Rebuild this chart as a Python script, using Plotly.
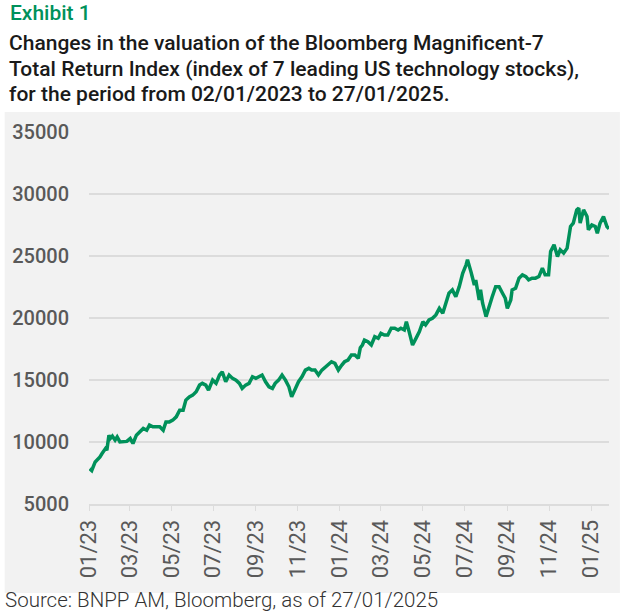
import plotly.graph_objects as go

# Bloomberg Magnificent-7 Total Return Index
dates = [
    "2023-01-02", "2023-01-05", "2023-01-10", "2023-01-15", "2023-01-17", "2023-01-20",
    "2023-01-25", "2023-01-27", "2023-01-30", "2023-02-01", "2023-02-04", "2023-02-08",
    "2023-02-11", "2023-02-15", "2023-02-20", "2023-02-25", "2023-03-02", "2023-03-06",
    "2023-03-11", "2023-03-16", "2023-03-21", "2023-03-26", "2023-03-30", "2023-04-04",
    "2023-04-09", "2023-04-14", "2023-04-19", "2023-04-23", "2023-04-28", "2023-05-03",
    "2023-05-08", "2023-05-13", "2023-05-18", "2023-05-22", "2023-05-27", "2023-06-01",
    "2023-06-06", "2023-06-11", "2023-06-15", "2023-06-20", "2023-06-24", "2023-06-27",
    "2023-06-30", "2023-07-05", "2023-07-10", "2023-07-14", "2023-07-19", "2023-07-24",
    "2023-07-29", "2023-08-03", "2023-08-08", "2023-08-12", "2023-08-17", "2023-08-22",
    "2023-08-27", "2023-09-01", "2023-09-05", "2023-09-10", "2023-09-15", "2023-09-20",
    "2023-09-25", "2023-09-29", "2023-10-04", "2023-10-09", "2023-10-14", "2023-10-19",
    "2023-10-23", "2023-10-28", "2023-11-02", "2023-11-07", "2023-11-12", "2023-11-17",
    "2023-11-21", "2023-11-26", "2023-12-01", "2023-12-06", "2023-12-11", "2023-12-16",
    "2023-12-20", "2023-12-25", "2023-12-30", "2024-01-04", "2024-01-08", "2024-01-13",
    "2024-01-18", "2024-01-23", "2024-01-28", "2024-01-31", "2024-02-03", "2024-02-06",
    "2024-02-11", "2024-02-16", "2024-02-21", "2024-02-26", "2024-03-01", "2024-03-06",
    "2024-03-11", "2024-03-16", "2024-03-21", "2024-03-26", "2024-03-30", "2024-04-04",
    "2024-04-07", "2024-04-11", "2024-04-16", "2024-04-21", "2024-04-26", "2024-05-01",
    "2024-05-05", "2024-05-10", "2024-05-15", "2024-05-20", "2024-05-25", "2024-05-30",
    "2024-06-03", "2024-06-08", "2024-06-13", "2024-06-18", "2024-06-23", "2024-06-28",
    "2024-07-03", "2024-07-05", "2024-07-10", "2024-07-15", "2024-07-17", "2024-07-22",
    "2024-07-24", "2024-07-27", "2024-08-01", "2024-08-05", "2024-08-10", "2024-08-15",
    "2024-08-20", "2024-08-25", "2024-08-29", "2024-09-01", "2024-09-06", "2024-09-08",
    "2024-09-13", "2024-09-18", "2024-09-23", "2024-09-28", "2024-10-02", "2024-10-07",
    "2024-10-12", "2024-10-17", "2024-10-22", "2024-10-26", "2024-10-31", "2024-11-03",
    "2024-11-08", "2024-11-13", "2024-11-17", "2024-11-22", "2024-11-27", "2024-12-02",
    "2024-12-06", "2024-12-11", "2024-12-14", "2024-12-16", "2024-12-21", "2024-12-26",
    "2024-12-28", "2025-01-02", "2025-01-07", "2025-01-10", "2025-01-14", "2025-01-19",
    "2025-01-24", "2025-01-27",
]
index_values = [
    7850, 7700, 8390, 8670, 8800, 9070,
    9470, 9340, 10550, 10280, 10470, 10150,
    10410, 10010, 10010, 10050, 10280, 9880,
    10550, 10820, 11090, 10950, 11360, 11220,
    11250, 11220, 10950, 11620, 11620, 11760,
    12030, 12570, 12570, 13380, 13640, 13780,
    14050, 14590, 14730, 14590, 14180, 14590,
    14990, 14730, 15400, 15660, 14860, 15400,
    15130, 14990, 14730, 14320, 14590, 14730,
    15260, 15130, 15260, 15400, 14860, 14450,
    14320, 14730, 14990, 15400, 14990, 14450,
    13640, 14320, 14860, 15260, 15800, 15940,
    15800, 15800, 15400, 15800, 16070, 16340,
    16470, 16340, 15800, 16200, 16470, 16610,
    17010, 17010, 16750, 17600, 17820, 18220,
    18090, 17820, 18490, 18360, 18760, 18630,
    18630, 19170, 19170, 19030, 19170, 19030,
    19700, 18900, 17820, 18360, 18900, 19700,
    19440, 19840, 19980, 20250, 20780, 20380,
    21190, 22000, 22270, 21720, 22530, 23610,
    24290, 24690, 23740, 22660, 23070, 21450,
    22270, 21190, 20110, 20910, 21720, 22530,
    22530, 22000, 21590, 20780, 21450, 22270,
    22400, 23210, 23480, 23340, 23070, 23210,
    23210, 23340, 24020, 23480, 23480, 25360,
    25900, 24960, 25500, 25230, 25630, 27380,
    27650, 28720, 28860, 27650, 28720, 28180,
    27110, 27510, 27380, 26840, 27650, 28180,
    27380, 27200,
]

title_top = "Exhibit 1"
title_lines = [
    "Changes in the valuation of the Bloomberg Magnificent-7",
    "Total Return Index (index of 7 leading US technology stocks),",
    "for the period from 02/01/2023 to 27/01/2025.",
]
source_text = "Source: BNPP AM, Bloomberg, as of 27/01/2025"

green = "#00915a"
grid = "#dcdcdc"
bg = "#f2f2f2"

W, H = 624, 616
ml, mr, mt, mb = 85, 15, 132, 112
pw, ph = W - ml - mr, H - mt - mb


def px_x(x):
    return (x - ml) / pw


def px_y(y):
    return (H - mb - y) / ph


fig = go.Figure()
fig.add_trace(go.Scatter(
    x=dates, y=index_values, mode="lines",
    line=dict(color=green, width=3.5),
    showlegend=False, hoverinfo="x+y",
))

# grey panel behind the chart
fig.add_shape(type="rect", xref="paper", yref="paper",
              x0=px_x(0), x1=px_x(620), y0=px_y(593), y1=px_y(112),
              fillcolor=bg, line_width=0, layer="below")

fig.add_annotation(text=title_top, xref="paper", yref="paper",
                   x=px_x(3), y=px_y(13), xanchor="left", yanchor="middle",
                   showarrow=False, font=dict(family="Roboto", size=21, color=green, weight=500))
for i, line in enumerate(title_lines):
    fig.add_annotation(text=line, xref="paper", yref="paper",
                       x=px_x(2), y=px_y(43 + 25.5 * i), xanchor="left", yanchor="middle",
                       showarrow=False, font=dict(family="Roboto", size=21, color="#1a1a1a", weight=500))
fig.add_annotation(text=source_text, xref="paper", yref="paper",
                   x=px_x(-2), y=px_y(600), xanchor="left", yanchor="middle",
                   showarrow=False, font=dict(family="Roboto", size=20.5, color="#333333", weight=300))

fig.update_layout(
    width=W, height=H,
    margin=dict(l=ml, r=mr, t=mt, b=mb),
    paper_bgcolor="white",
    plot_bgcolor="rgba(0,0,0,0)",
    font=dict(family="Roboto", color="#595959"),
    xaxis=dict(
        type="date", range=["2023-01-01", "2025-01-27"],
        tick0="2023-01-01", dtick="M2", tickformat="%m/%y", tickangle=-90,
        showgrid=False, showline=True, linecolor=grid, linewidth=2,
        ticks="outside", ticklen=5, tickcolor=grid, tickwidth=1,
        tickfont=dict(size=22, color="#595959"),
    ),
    yaxis=dict(
        range=[5000, 35000], dtick=5000, tickformat="d",
        showgrid=True, gridcolor=grid, gridwidth=2, zeroline=False,
        showline=False, ticks="", ticklabelstandoff=19,
        tickfont=dict(size=20, color="#595959", weight=500),
    ),
)

# the page body has a default 8px margin; remove it so the figure sits at the corner
fig.write_html("out.html", config={"displayModeBar": False},
               post_script="document.body.style.margin='0';")
